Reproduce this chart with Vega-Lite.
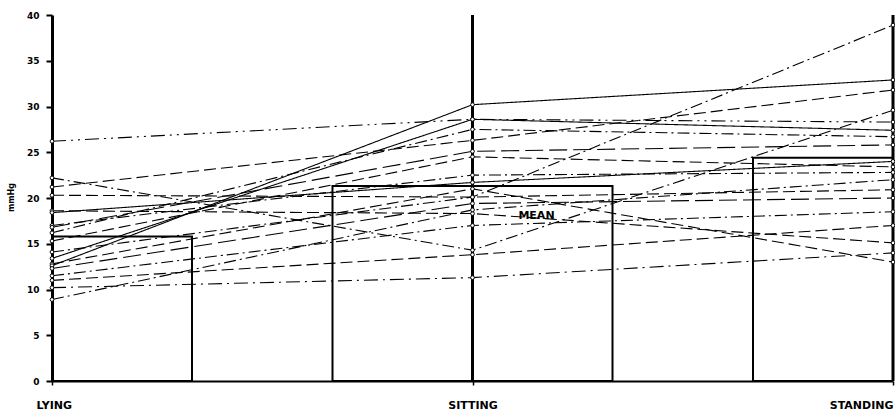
{
  "$schema": "https://vega.github.io/schema/vega-lite/v6.json",
  "width": 841,
  "height": 366,
  "autosize": {"type": "none"},
  "padding": {"left": 52, "top": 15, "right": 2, "bottom": 34},
  "background": "white",
  "config": {"view": {"stroke": null}, "font": "DejaVu Sans"},
  "datasets": {
    "subjects": [
      {"id": 1, "posture": "LYING", "v": 26.2}, {"id": 1, "posture": "SITTING", "v": 28.6}, {"id": 1, "posture": "STANDING", "v": 28.3},
      {"id": 2, "posture": "LYING", "v": 22.2}, {"id": 2, "posture": "SITTING", "v": 14.3}, {"id": 2, "posture": "STANDING", "v": 29.6},
      {"id": 3, "posture": "LYING", "v": 21.2}, {"id": 3, "posture": "SITTING", "v": 26.3}, {"id": 3, "posture": "STANDING", "v": 31.8},
      {"id": 4, "posture": "LYING", "v": 20.3}, {"id": 4, "posture": "SITTING", "v": 20.1}, {"id": 4, "posture": "STANDING", "v": 20.9},
      {"id": 5, "posture": "LYING", "v": 18.6}, {"id": 5, "posture": "SITTING", "v": 18.3}, {"id": 5, "posture": "STANDING", "v": 15.1},
      {"id": 6, "posture": "LYING", "v": 18.4}, {"id": 6, "posture": "SITTING", "v": 21.7}, {"id": 6, "posture": "STANDING", "v": 24.0},
      {"id": 7, "posture": "LYING", "v": 17.0}, {"id": 7, "posture": "SITTING", "v": 22.5}, {"id": 7, "posture": "STANDING", "v": 22.8},
      {"id": 8, "posture": "LYING", "v": 16.8}, {"id": 8, "posture": "SITTING", "v": 25.1}, {"id": 8, "posture": "STANDING", "v": 25.8},
      {"id": 9, "posture": "LYING", "v": 16.2}, {"id": 9, "posture": "SITTING", "v": 27.5}, {"id": 9, "posture": "STANDING", "v": 26.7},
      {"id": 10, "posture": "LYING", "v": 15.3}, {"id": 10, "posture": "SITTING", "v": 24.5}, {"id": 10, "posture": "STANDING", "v": 23.4},
      {"id": 11, "posture": "LYING", "v": 14.1}, {"id": 11, "posture": "SITTING", "v": 20.1}, {"id": 11, "posture": "STANDING", "v": 38.9},
      {"id": 12, "posture": "LYING", "v": 13.4}, {"id": 12, "posture": "SITTING", "v": 28.6}, {"id": 12, "posture": "STANDING", "v": 27.4},
      {"id": 13, "posture": "LYING", "v": 12.8}, {"id": 13, "posture": "SITTING", "v": 21.0}, {"id": 13, "posture": "STANDING", "v": 13.0},
      {"id": 14, "posture": "LYING", "v": 12.6}, {"id": 14, "posture": "SITTING", "v": 30.2}, {"id": 14, "posture": "STANDING", "v": 32.9},
      {"id": 15, "posture": "LYING", "v": 12.3}, {"id": 15, "posture": "SITTING", "v": 19.4}, {"id": 15, "posture": "STANDING", "v": 20.0},
      {"id": 16, "posture": "LYING", "v": 11.5}, {"id": 16, "posture": "SITTING", "v": 17.0}, {"id": 16, "posture": "STANDING", "v": 18.5},
      {"id": 17, "posture": "LYING", "v": 11.0}, {"id": 17, "posture": "SITTING", "v": 13.8}, {"id": 17, "posture": "STANDING", "v": 17.0},
      {"id": 18, "posture": "LYING", "v": 10.2}, {"id": 18, "posture": "SITTING", "v": 11.3}, {"id": 18, "posture": "STANDING", "v": 14.0},
      {"id": 19, "posture": "LYING", "v": 8.9}, {"id": 19, "posture": "SITTING", "v": 18.7}, {"id": 19, "posture": "STANDING", "v": 22.0}
    ],
    "means": [
      {"posture": "LYING", "v": 15.8},
      {"posture": "SITTING", "v": 21.3},
      {"posture": "STANDING", "v": 24.4}
    ],
    "axes": [
      {"posture": "SITTING"},
      {"posture": "STANDING"}
    ],
    "labels": [
      {"posture": "SITTING", "v": 18.0, "label": "MEAN"}
    ]
  },
  "layer": [
    {
      "data": {"name": "means"},
      "mark": {"type": "bar", "size": 280, "fill": null, "fillOpacity": 0, "stroke": "black", "strokeWidth": 2, "clip": true, "orient": "vertical"},
      "encoding": {
        "x": {
          "field": "posture", "type": "nominal",
          "scale": {"type": "point", "domain": ["LYING", "SITTING", "STANDING"], "padding": 0},
          "axis": {
            "title": null, "grid": false, "labelAngle": 0,
            "domainColor": "black", "domainWidth": 2,
            "tickColor": "black", "tickSize": 4, "tickWidth": 1.5,
            "labelPadding": 14, "labelBaseline": "top",
            "labelFont": "DejaVu Sans", "labelFontWeight": "bold", "labelFontSize": 11, "labelColor": "black",
            "labelFlush": true, "labelFlushOffset": 0,
            "labelOffset": {"condition": {"test": "datum.value == 'LYING'", "value": -16}, "value": 0}
          }
        },
        "y": {
          "field": "v", "type": "quantitative",
          "scale": {"domain": [0, 40], "nice": false, "zero": true},
          "axis": {
            "title": "mmHg", "grid": false,
            "values": [0, 5, 10, 15, 20, 25, 30, 35, 40],
            "domainColor": "black", "domainWidth": 3,
            "tickColor": "black", "tickWidth": 2, "tickSize": 6,
            "labelPadding": 7, "labelFont": "DejaVu Sans", "labelFontWeight": "bold", "labelFontSize": 9, "labelColor": "black",
            "titleFont": "DejaVu Sans", "titleFontSize": 8, "titleFontWeight": "bold", "titleColor": "black",
            "titleX": -41, "titleY": 182, "titleAlign": "center", "titleBaseline": "middle", "titleAngle": -90
          }
        }
      }
    },
    {
      "data": {"name": "subjects"},
      "mark": {"type": "line", "color": "black", "strokeWidth": 1.1},
      "encoding": {
        "x": {"field": "posture", "type": "nominal"},
        "y": {"field": "v", "type": "quantitative"},
        "detail": {"field": "id", "type": "nominal"},
        "strokeDash": {
          "field": "id", "type": "nominal", "legend": null,
          "scale": {
            "domain": [1, 2, 3, 4, 5, 6, 7, 8, 9, 10, 11, 12, 13, 14, 15, 16, 17, 18, 19],
            "range": [
              [14, 5, 2, 5, 2, 5], [12, 4, 2, 4], [12, 5], [12, 5], [12, 5], [1, 0], [12, 4, 2, 4], [18, 6], [12, 4, 2, 4], [12, 5],
              [12, 4, 2, 4], [1, 0], [12, 5], [1, 0], [18, 6], [12, 4, 2, 4], [12, 5], [14, 5, 2, 5], [12, 4, 2, 4]
            ]
          }
        }
      }
    },
    {
      "data": {"name": "axes"},
      "mark": {"type": "rule", "color": "black", "strokeWidth": 3},
      "encoding": {
        "x": {"field": "posture", "type": "nominal"}
      }
    },
    {
      "data": {"name": "subjects"},
      "mark": {"type": "point", "shape": "circle", "size": 14, "filled": false, "fill": "white", "fillOpacity": 1, "stroke": "black", "strokeWidth": 1, "opacity": 1},
      "encoding": {
        "x": {"field": "posture", "type": "nominal"},
        "y": {"field": "v", "type": "quantitative"}
      }
    },
    {
      "data": {"name": "labels"},
      "mark": {"type": "text", "dx": 64, "fontWeight": "bold", "fontSize": 11, "font": "DejaVu Sans", "color": "black", "align": "center", "baseline": "middle"},
      "encoding": {
        "x": {"field": "posture", "type": "nominal"},
        "y": {"field": "v", "type": "quantitative"},
        "text": {"field": "label"}
      }
    }
  ]
}
